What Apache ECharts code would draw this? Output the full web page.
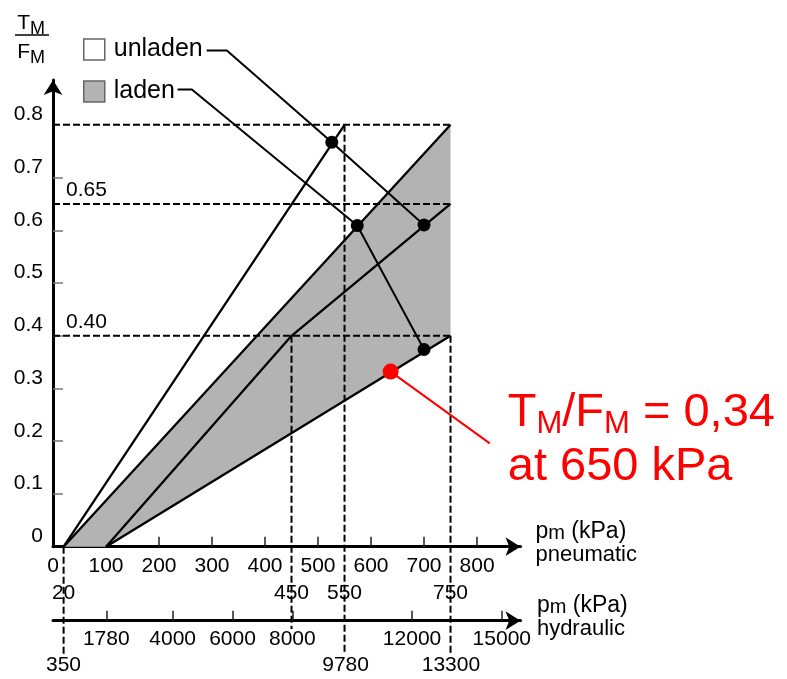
<!DOCTYPE html>
<html>
<head>
<meta charset="utf-8">
<title>TM/FM vs pm</title>
<script src="https://cdn.jsdelivr.net/npm/echarts@6/dist/echarts.min.js"></script>
<style>
html, body { margin: 0; padding: 0; background: #fff; }
#chart { width: 787px; height: 679px; }
</style>
</head>
<body>
<div id="chart"></div>
<script>
// 轴刻度
var yTicks = [0, 0.1, 0.2, 0.3, 0.4, 0.5, 0.6, 0.7, 0.8]
var yTickMarks = [0.1, 0.2, 0.3, 0.4, 0.5, 0.6, 0.7]
var pneuTicks = [0, 100, 200, 300, 400, 500, 600, 700, 800]
var pneuMarks = [20, 450, 550, 750]
var hydrTicks = [1780, 4000, 6000, 8000, 12000, 15000]
var hydrMarks = [350, 9780, 13300]

// 特性线 (pm kPa, TM/FM)
var steepLine = [[20, 0], [550, 0.8]]
var upperLine = [[20, 0], [750, 0.8]]
var middleLine = [[100, 0], [450, 0.40], [750, 0.65]]
var lowerLine = [[100, 0], [750, 0.40]]
var ladenArea = [[20, 0], [750, 0.8], [750, 0.40], [100, 0]]

// 辅助虚线
var guideLevels = [0.8, 0.65, 0.40]
var guideLabels = ['', '0.65', '0.40']
var guideDrops = [[20, 0, -0.205], [450, 0.40, -0.156], [550, 0.8, -0.2], [750, 0.40, -0.205]]

// 图例引线和圆点
var unladenLeader = [[290, 0.941], [328, 0.941], [526, 0.767], [700, 0.610]]
var ladenLeader = [[235, 0.867], [262, 0.867], [574, 0.609], [700, 0.374]]
var dots = [[526, 0.767], [574, 0.609], [700, 0.610], [700, 0.374]]

// 标注点
var notePoint = [[637, 0.332]]
var noteLine = [[637, 0.332], [824, 0.196]]
var noteText = ['T', 'M', '/F', 'M', ' = 0,34', 'at 650 kPa']

var font = 'Liberation Sans, Arial, sans-serif'
var chart = echarts.init(document.getElementById('chart'))

function solid(name, data, width) {
  return {
    name: name,
    type: 'line',
    data: data,
    symbol: 'none',
    clip: false,
    z: 3,
    lineStyle: { color: '#000', width: width || 2.3 },
    silent: true
  }
}
function dashed(data) {
  return {
    type: 'line',
    data: data,
    symbol: 'none',
    clip: false,
    z: 2,
    lineStyle: { color: '#000', width: 2, type: [7, 3] },
    silent: true
  }
}
function plain(v) { return String(v) }

var series = []
// 满载区域
series.push({
  name: 'laden',
  type: 'custom',
  data: ladenArea,
  z: 1,
  silent: true,
  itemStyle: { color: '#b3b3b3' },
  renderItem: function (params, api) {
    if (params.dataIndex !== 0) return
    var pts = ladenArea.map(function (p) { return api.coord(p) })
    return { type: 'polygon', shape: { points: pts }, style: { fill: '#b3b3b3' } }
  }
})
series.push(solid('unladen', steepLine))
series.push(solid('unladen-mid', middleLine))
series.push(solid('laden-up', upperLine))
series.push(solid('laden-low', lowerLine))
guideLevels.forEach(function (v) {
  series.push(dashed([[0, v], [750, v]]))
})
guideDrops.forEach(function (d) {
  series.push(dashed([[d[0], d[1]], [d[0], d[2]]]))
})
series.push({
  type: 'scatter',
  symbolSize: 0,
  data: guideLevels.map(function (v) { return [0, v] }),
  silent: true,
  itemStyle: { opacity: 1 },
  label: {
    show: true,
    position: 'right',
    distance: 13,
    offset: [0, -14],
    fontFamily: font,
    fontSize: 21,
    color: '#000',
    formatter: function (p) { return guideLabels[p.dataIndex] }
  }
})
series.push(solid('l1', unladenLeader, 2))
series.push(solid('l2', ladenLeader, 2))
series.push({
  type: 'scatter',
  data: dots,
  symbolSize: 13,
  itemStyle: { color: '#000', opacity: 1 },
  z: 5,
  silent: true
})
series.push({
  type: 'line',
  data: noteLine,
  symbol: 'none',
  clip: false,
  z: 5,
  lineStyle: { color: '#ff0000', width: 2 },
  silent: true
})
series.push({
  type: 'scatter',
  data: notePoint,
  symbolSize: 16,
  itemStyle: { color: '#ff0000', opacity: 1 },
  z: 6,
  silent: true
})
series.push({
  type: 'scatter',
  data: [noteLine[1]],
  symbolSize: 0,
  clip: false,
  silent: true,
  itemStyle: { opacity: 1 },
  label: {
    show: true,
    position: [18, -57],
    color: '#ff0000',
    fontFamily: font,
    formatter: '{t|' + noteText[0] + '}{s|' + noteText[1] + '}{t|' + noteText[2] + '}{s|' + noteText[3] + '}{t|' + noteText[4] + '}\n{t|' + noteText[5] + '}',
    rich: {
      t: { fontSize: 47, lineHeight: 54, color: '#ff0000', fontFamily: font },
      s: { fontSize: 31, lineHeight: 18, verticalAlign: 'bottom', color: '#ff0000', fontFamily: font }
    }
  }
})

function xName(kind) {
  return '{p|p}{m|m}{k| (kPa)}\n{n|' + kind + '}'
}
var xNameStyle = {
  fontFamily: font,
  color: '#000',
  padding: [0, 0, 8, 0],
  rich: {
    p: { fontSize: 23, lineHeight: 24, fontFamily: font },
    m: { fontSize: 20, lineHeight: 12, verticalAlign: 'bottom', fontFamily: font },
    k: { fontSize: 23, lineHeight: 24, fontFamily: font },
    n: { fontSize: 22, lineHeight: 22, fontFamily: font }
  }
}
var axisArrow = {
  show: true,
  symbol: ['none', 'arrow'],
  symbolSize: [14, 15],
  lineStyle: { color: '#000', width: 3 }
}
var tickStyle = { show: true, inside: true, length: 10, lineStyle: { color: '#222', width: 1.5 } }
var labelStyle = { fontFamily: font, fontSize: 21, color: '#000', formatter: plain }

var option = {
  animation: false,
  backgroundColor: '#fff',
  grid: { left: 53, top: 80, width: 467.5, height: 466.7 },
  legend: {
    orient: 'vertical',
    left: 83,
    top: 37,
    padding: 0,
    itemWidth: 21,
    itemHeight: 21,
    itemGap: 17,
    selectedMode: false,
    textStyle: { fontFamily: font, fontSize: 25, color: '#000', padding: [0, 0, 0, 4] },
    data: [
      { name: 'unladen', icon: 'rect', itemStyle: { color: '#fff', borderColor: '#666', borderWidth: 1.5 } },
      { name: 'laden', icon: 'rect', itemStyle: { color: '#b3b3b3', borderColor: '#666', borderWidth: 1.5 } }
    ]
  },
  xAxis: [
    { // 气压
      type: 'value', min: 0, max: 882, position: 'bottom', offset: 0,
      name: xName('pneumatic'), nameLocation: 'end', nameGap: 15, nameTextStyle: xNameStyle,
      axisLine: axisArrow,
      axisTick: Object.assign({ customValues: pneuTicks.slice(1) }, tickStyle),
      axisLabel: Object.assign({ customValues: pneuTicks, margin: 9 }, labelStyle),
      splitLine: { show: false }
    },
    {
      type: 'value', min: 0, max: 882, position: 'bottom', offset: 0,
      axisLine: { show: false }, axisTick: { show: false },
      axisLabel: Object.assign({ customValues: pneuMarks, margin: 36 }, labelStyle),
      splitLine: { show: false }
    },
    { // 液压
      type: 'value', min: 0, max: 15625, position: 'bottom', offset: 74,
      name: xName('hydraulic'), nameLocation: 'end', nameGap: 15, nameTextStyle: xNameStyle,
      axisLine: axisArrow,
      axisTick: Object.assign({ customValues: hydrTicks }, tickStyle),
      axisLabel: Object.assign({ customValues: hydrTicks, margin: 8 }, labelStyle),
      splitLine: { show: false }
    },
    {
      type: 'value', min: 0, max: 15625, position: 'bottom', offset: 74,
      axisLine: { show: false }, axisTick: { show: false },
      axisLabel: Object.assign({ customValues: hydrMarks, margin: 34 }, labelStyle),
      splitLine: { show: false }
    }
  ],
  yAxis: {
    type: 'value', min: 0, max: 0.885, interval: 0.1,
    name: '{t|T}{s|M}\n{t|F}{s|M}',
    nameLocation: 'end',
    nameGap: 13,
    nameTextStyle: {
      align: 'right',
      verticalAlign: 'bottom',
      padding: [0, 8, 0, 0],
      rich: {
        t: { fontSize: 21, lineHeight: 29, fontFamily: font, color: '#000' },
        s: { fontSize: 18, lineHeight: 19, verticalAlign: 'bottom', fontFamily: font, color: '#000' }
      }
    },
    axisLine: axisArrow,
    axisTick: Object.assign({ customValues: yTickMarks }, tickStyle, { lineStyle: { color: '#777', width: 1.5 } }),
    axisLabel: Object.assign({ customValues: yTicks, margin: 10, verticalAlign: 'bottom' }, labelStyle),
    splitLine: { show: false }
  },
  graphic: [
    { type: 'line', shape: { x1: 15, y1: 35, x2: 49, y2: 35 }, style: { stroke: '#000', lineWidth: 1.5 } }
  ],
  series: series
}
chart.setOption(option)
</script>
</body>
</html>
